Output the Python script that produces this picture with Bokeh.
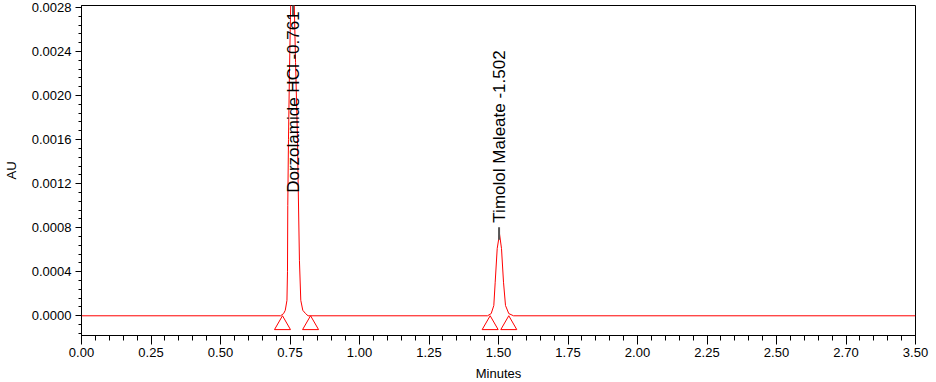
import math
from bokeh.plotting import figure
from bokeh.models import Range1d, FixedTicker, NumeralTickFormatter, ColumnDataSource
from bokeh.core.properties import value
from bokeh.embed import file_html
from bokeh.resources import INLINE

# ---- data ----
time_min = [0.0, 0.716, 0.727, 0.733, 0.739, 0.741, 0.742, 0.7445, 0.748, 0.753, 0.758,
            0.7647, 0.770, 0.777, 0.7795, 0.784, 0.7888, 0.796, 0.806, 0.815, 0.825,
            1.4604, 1.4737, 1.4831, 1.4881, 1.4953, 1.5036, 1.5108, 1.518, 1.5252, 1.537,
            1.554, 3.0]
absorbance_au = [0.0, 0.0, 0.00002, 0.00005, 0.00014, 0.0004, 0.0010, 0.0016, 0.0022, 0.0029, 0.0033,
                 0.0029, 0.0023, 0.0016, 0.00118, 0.0005, 0.00014, 0.00005, 0.00002, 0.0, 0.0,
                 0.0, 0.00002, 0.000093, 0.000305, 0.00061, 0.000744, 0.00061, 0.000305, 0.000093, 0.00002,
                 0.0, 0.0]

peak_names = ["Dorzolamide HCl -0.761", "Timolol Maleate -1.502"]
peak_rt = [0.761, 1.502]
peak_label_au = [0.001117, 0.000846]
peak_mark_top = [0.00285, 0.000805]
peak_mark_bottom = [0.00272, 0.00069]

integration_marks = [0.723, 0.824, 1.470, 1.537]

x_tick_values = [0.0, 0.25, 0.5, 0.75, 1.0, 1.25, 1.5, 1.75, 2.0, 2.25, 2.5, 2.75, 3.0]
x_tick_labels = ["0.00", "0.25", "0.50", "0.75", "1.00", "1.25", "1.50", "1.75",
                 "2.00", "2.25", "2.50", "2.70", "3.50"]
y_tick_values = [0.0, 0.0004, 0.0008, 0.0012, 0.0016, 0.0020, 0.0024, 0.0028]

FONT = "Liberation Sans"

p = figure(frame_width=834, frame_height=330, output_backend="svg", toolbar_location=None,
           x_range=Range1d(0.0, 3.0), y_range=Range1d(-0.000179, 0.002818),
           min_border_left=74, min_border_right=16, min_border_top=5, min_border_bottom=45,
           background_fill_color="white", border_fill_color="white")
p.grid.visible = False
p.outline_line_color = "black"
p.outline_line_width = 1

# axes
p.xaxis.ticker = FixedTicker(ticks=x_tick_values,
                             minor_ticks=[round(i * 0.05, 2) for i in range(0, 61)])
p.xaxis.major_label_overrides = {v: l for v, l in zip(x_tick_values, x_tick_labels)}
p.yaxis.ticker = FixedTicker(ticks=y_tick_values,
                             minor_ticks=[round(i * 0.00008, 5) for i in range(-2, 36)])
p.yaxis.formatter = NumeralTickFormatter(format="0.0000")

for ax in (p.xaxis[0], p.yaxis[0]):
    ax.axis_line_color = "black"
    ax.major_tick_line_color = "black"
    ax.minor_tick_line_color = "black"
    ax.major_tick_in = 0
    ax.minor_tick_in = 0
    ax.major_label_text_font = FONT
    ax.major_label_text_font_size = "13px"
    ax.major_label_text_color = "black"
    ax.axis_label_text_font = FONT
    ax.axis_label_text_font_size = "13px"
    ax.axis_label_text_font_style = "normal"
    ax.axis_label_text_color = "black"

p.xaxis.axis_label = "Minutes"
p.xaxis.major_tick_out = 9
p.xaxis.minor_tick_out = 5
p.xaxis.major_label_standoff = 3
p.xaxis.axis_label_standoff = 6

p.yaxis.axis_label = "AU"
p.yaxis.major_tick_out = 6
p.yaxis.minor_tick_out = 3
p.yaxis.major_label_standoff = 4
p.yaxis.axis_label_standoff = 10

# trace
p.line(time_min, absorbance_au, line_color="red", line_width=1)

# integration markers
tri_y = [-0.0000835] * len(integration_marks)
p.scatter(integration_marks, tri_y, marker="triangle", size=16,
          fill_color=None, line_color="red", line_width=1)

# apex marks
p.segment(x0=peak_rt, y0=peak_mark_bottom, x1=peak_rt, y1=peak_mark_top,
          line_color="#555555", line_width=2)

# peak labels
src = ColumnDataSource(dict(x=peak_rt, y=peak_label_au, text=peak_names))
p.text(x="x", y="y", text="text", source=src, angle=math.pi / 2,
       text_align="left", text_baseline="middle", text_color="black",
       text_font=value(FONT), text_font_size="17px")

open("out.html", "w").write(file_html(p, INLINE))
